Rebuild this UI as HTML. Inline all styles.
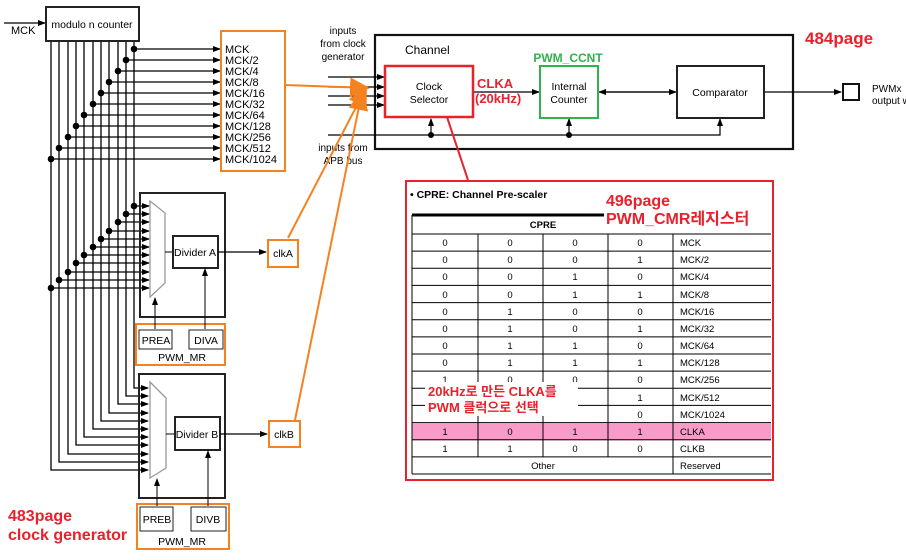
<!DOCTYPE html>
<html><head><meta charset="utf-8"><style>
body{margin:0;background:#fff;width:906px;height:560px;overflow:hidden}
svg{display:block;font-family:"Liberation Sans",Arial,sans-serif}
.k{font-family:"Liberation Sans","Noto Sans CJK KR",sans-serif;font-weight:bold}
</style></head><body>
<svg width="906" height="560" viewBox="0 0 906 560" xmlns="http://www.w3.org/2000/svg">
<defs>
<marker id="a" markerWidth="8" markerHeight="6" refX="7" refY="3" orient="auto" markerUnits="userSpaceOnUse"><path d="M0,0 L8,3 L0,6 z" fill="#000"/></marker>
<marker id="o" markerWidth="22" markerHeight="20" refX="18" refY="10" orient="auto" markerUnits="userSpaceOnUse"><path d="M0,0 L20,10 L0,20 z" fill="#f58220"/></marker>
</defs>
<g stroke="#000" stroke-width="1.3" fill="none">
<line x1="4" y1="23" x2="45" y2="23" marker-end="url(#a)"/>
<polyline points="134,41 134,388 148,388" marker-end="url(#a)"/>
<polyline points="126,41 126,396 148,396" marker-end="url(#a)"/>
<polyline points="118,41 118,404 148,404" marker-end="url(#a)"/>
<polyline points="109,41 109,413 148,413" marker-end="url(#a)"/>
<polyline points="101,41 101,421 148,421" marker-end="url(#a)"/>
<polyline points="93,41 93,429 148,429" marker-end="url(#a)"/>
<polyline points="84,41 84,437 148,437" marker-end="url(#a)"/>
<polyline points="76,41 76,445 148,445" marker-end="url(#a)"/>
<polyline points="68,41 68,454 148,454" marker-end="url(#a)"/>
<polyline points="59,41 59,462 148,462" marker-end="url(#a)"/>
<polyline points="51,41 51,470 148,470" marker-end="url(#a)"/>
<line x1="134" y1="49" x2="220" y2="49" marker-end="url(#a)"/>
<line x1="126" y1="60" x2="220" y2="60" marker-end="url(#a)"/>
<line x1="118" y1="71" x2="220" y2="71" marker-end="url(#a)"/>
<line x1="109" y1="82" x2="220" y2="82" marker-end="url(#a)"/>
<line x1="101" y1="93" x2="220" y2="93" marker-end="url(#a)"/>
<line x1="93" y1="104" x2="220" y2="104" marker-end="url(#a)"/>
<line x1="84" y1="115" x2="220" y2="115" marker-end="url(#a)"/>
<line x1="76" y1="126" x2="220" y2="126" marker-end="url(#a)"/>
<line x1="68" y1="137" x2="220" y2="137" marker-end="url(#a)"/>
<line x1="59" y1="148" x2="220" y2="148" marker-end="url(#a)"/>
<line x1="51" y1="159" x2="220" y2="159" marker-end="url(#a)"/>
<line x1="134" y1="206" x2="149" y2="206" marker-end="url(#a)"/>
<line x1="126" y1="214" x2="149" y2="214" marker-end="url(#a)"/>
<line x1="118" y1="222" x2="149" y2="222" marker-end="url(#a)"/>
<line x1="109" y1="231" x2="149" y2="231" marker-end="url(#a)"/>
<line x1="101" y1="239" x2="149" y2="239" marker-end="url(#a)"/>
<line x1="93" y1="247" x2="149" y2="247" marker-end="url(#a)"/>
<line x1="84" y1="255" x2="149" y2="255" marker-end="url(#a)"/>
<line x1="76" y1="263" x2="149" y2="263" marker-end="url(#a)"/>
<line x1="68" y1="272" x2="149" y2="272" marker-end="url(#a)"/>
<line x1="59" y1="280" x2="149" y2="280" marker-end="url(#a)"/>
<line x1="51" y1="288" x2="149" y2="288" marker-end="url(#a)"/>
</g>
<g fill="#000">
<circle cx="134" cy="49" r="3.3"/><circle cx="126" cy="60" r="3.3"/><circle cx="118" cy="71" r="3.3"/><circle cx="109" cy="82" r="3.3"/><circle cx="101" cy="93" r="3.3"/><circle cx="93" cy="104" r="3.3"/><circle cx="84" cy="115" r="3.3"/><circle cx="76" cy="126" r="3.3"/><circle cx="68" cy="137" r="3.3"/><circle cx="59" cy="148" r="3.3"/><circle cx="51" cy="159" r="3.3"/>
<circle cx="134" cy="206" r="3.3"/><circle cx="126" cy="214" r="3.3"/><circle cx="118" cy="222" r="3.3"/><circle cx="109" cy="231" r="3.3"/><circle cx="101" cy="239" r="3.3"/><circle cx="93" cy="247" r="3.3"/><circle cx="84" cy="255" r="3.3"/><circle cx="76" cy="263" r="3.3"/><circle cx="68" cy="272" r="3.3"/><circle cx="59" cy="280" r="3.3"/><circle cx="51" cy="288" r="3.3"/>
</g>
<rect x="46" y="7" width="93" height="34" fill="#fff" stroke="#222" stroke-width="2"/>
<text x="92" y="28" font-size="10.5" text-anchor="middle">modulo n counter</text>
<text x="11" y="34" font-size="11">MCK</text>
<rect x="221" y="31" width="64" height="140" fill="#fff" stroke="#f58220" stroke-width="2"/>
<g font-size="11"><text x="225" y="53">MCK</text><text x="225" y="64">MCK/2</text><text x="225" y="75">MCK/4</text><text x="225" y="86">MCK/8</text><text x="225" y="97">MCK/16</text><text x="225" y="108">MCK/32</text><text x="225" y="119">MCK/64</text><text x="225" y="130">MCK/128</text><text x="225" y="141">MCK/256</text><text x="225" y="152">MCK/512</text><text x="225" y="163">MCK/1024</text></g>
<rect x="140" y="193" width="85" height="124" fill="none" stroke="#222" stroke-width="2"/>
<polygon points="150,201 165,213 165,283 150,297" fill="#fff" stroke="#999" stroke-width="1.3"/>
<line x1="165" y1="252" x2="173" y2="252" stroke="#000"/>
<rect x="173" y="236" width="45" height="32" fill="#fff" stroke="#222" stroke-width="2"/>
<text x="195" y="256" font-size="10.5" text-anchor="middle">Divider A</text>
<line x1="218" y1="252" x2="266" y2="252" stroke="#000" stroke-width="1.2" marker-end="url(#a)"/>
<rect x="268" y="240" width="30" height="27" fill="#fff" stroke="#f58220" stroke-width="2"/>
<text x="283" y="257" font-size="10.5" text-anchor="middle">clkA</text>
<rect x="136" y="324" width="89" height="41" fill="none" stroke="#f58220" stroke-width="2"/>
<rect x="139" y="330" width="33" height="19" fill="#fff" stroke="#222"/><text x="156" y="344" font-size="10.5" text-anchor="middle">PREA</text>
<rect x="189" y="330" width="34" height="19" fill="#fff" stroke="#222"/><text x="206" y="344" font-size="10.5" text-anchor="middle">DIVA</text>
<text x="182" y="361" font-size="10.5" text-anchor="middle">PWM_MR</text>
<line x1="155" y1="329" x2="155" y2="298" stroke="#000" marker-end="url(#a)"/>
<line x1="205" y1="329" x2="205" y2="269" stroke="#000" marker-end="url(#a)"/>
<rect x="139" y="374" width="86" height="124" fill="none" stroke="#222" stroke-width="2"/>
<polygon points="150,382 166,398 166,468 150,478" fill="#fff" stroke="#999" stroke-width="1.3"/>
<line x1="166" y1="434" x2="175" y2="434" stroke="#000"/>
<rect x="175" y="417" width="45" height="33" fill="#fff" stroke="#222" stroke-width="2"/>
<text x="197" y="438" font-size="10.5" text-anchor="middle">Divider B</text>
<line x1="220" y1="434" x2="267" y2="434" stroke="#000" stroke-width="1.2" marker-end="url(#a)"/>
<rect x="269" y="421" width="31" height="26" fill="#fff" stroke="#f58220" stroke-width="2"/>
<text x="284" y="438" font-size="10.5" text-anchor="middle">clkB</text>
<rect x="137" y="504" width="92" height="45" fill="none" stroke="#f58220" stroke-width="2"/>
<rect x="140" y="507" width="33" height="24" fill="#fff" stroke="#222"/><text x="157" y="523" font-size="10.5" text-anchor="middle">PREB</text>
<rect x="191" y="507" width="35" height="24" fill="#fff" stroke="#222"/><text x="208" y="523" font-size="10.5" text-anchor="middle">DIVB</text>
<text x="182" y="545" font-size="10.5" text-anchor="middle">PWM_MR</text>
<line x1="157" y1="506" x2="157" y2="479" stroke="#000" marker-end="url(#a)"/>
<line x1="208" y1="506" x2="208" y2="451" stroke="#000" marker-end="url(#a)"/>
<text x="8" y="521" class="k" font-size="16" fill="#e8212b">483page</text>
<text x="8" y="540" class="k" font-size="16" fill="#e8212b">clock generator</text>
<rect x="375" y="35" width="418" height="114" fill="none" stroke="#111" stroke-width="2.2"/>
<text x="405" y="54" font-size="12">Channel</text>
<text x="343" y="34" font-size="10" text-anchor="middle">inputs</text>
<text x="343" y="47" font-size="10" text-anchor="middle">from clock</text>
<text x="343" y="60" font-size="10" text-anchor="middle">generator</text>
<text x="343" y="151" font-size="10" text-anchor="middle">inputs from</text>
<text x="343" y="164" font-size="10" text-anchor="middle">APB bus</text>
<g stroke="#000" stroke-width="1.2">
<line x1="328" y1="77" x2="384" y2="77" marker-end="url(#a)"/>
<line x1="328" y1="87" x2="384" y2="87" marker-end="url(#a)"/>
<line x1="328" y1="96" x2="384" y2="96" marker-end="url(#a)"/>
<line x1="328" y1="105" x2="384" y2="105" marker-end="url(#a)"/>
<polyline points="328,135 720,135 720,119" fill="none" marker-end="url(#a)"/>
<line x1="431" y1="135" x2="431" y2="119" marker-end="url(#a)"/>
<line x1="569" y1="135" x2="569" y2="119" marker-end="url(#a)"/>
<line x1="473" y1="92" x2="539" y2="92" marker-end="url(#a)"/>
<line x1="606" y1="92" x2="676" y2="92" marker-end="url(#a)"/>
<line x1="670" y1="92" x2="599" y2="92" marker-end="url(#a)"/>
<line x1="764" y1="92" x2="841" y2="92" marker-end="url(#a)"/>
</g>
<circle cx="431" cy="135" r="3" fill="#000"/><circle cx="569" cy="135" r="3" fill="#000"/>
<rect x="385" y="66" width="88" height="51" fill="#fff" stroke="#e8212b" stroke-width="2.5"/>
<text x="429" y="90" font-size="10.5" text-anchor="middle">Clock</text>
<text x="429" y="103" font-size="10.5" text-anchor="middle">Selector</text>
<rect x="540" y="66" width="58" height="52" fill="#fff" stroke="#2fb34a" stroke-width="2"/>
<text x="569" y="90" font-size="10.5" text-anchor="middle">Internal</text>
<text x="569" y="103" font-size="10.5" text-anchor="middle">Counter</text>
<rect x="677" y="66" width="87" height="52" fill="#fff" stroke="#222" stroke-width="2"/>
<text x="720" y="96" font-size="10.5" text-anchor="middle">Comparator</text>
<rect x="843" y="84" width="16" height="16" fill="#fff" stroke="#111" stroke-width="2"/>
<text x="872" y="92" font-size="10">PWMx</text>
<text x="872" y="104" font-size="10">output w</text>
<text x="477" y="88" class="k" font-size="13" fill="#e8212b">CLKA</text>
<text x="475" y="103" class="k" font-size="13" fill="#e8212b" font-weight="normal">(20kHz)</text>
<text x="568" y="62" class="k" font-size="12" fill="#2fb34a" text-anchor="middle">PWM_CCNT</text>
<text x="805" y="44" class="k" font-size="17" fill="#e8212b">484page</text>
<g stroke="#f58220" stroke-width="2" fill="none">
<line x1="285" y1="85" x2="368" y2="88" marker-end="url(#o)"/>
<line x1="288" y1="238" x2="366" y2="88" marker-end="url(#o)"/>
<line x1="295" y1="420" x2="362" y2="92" marker-end="url(#o)"/>
</g>
<line x1="447" y1="117" x2="468" y2="180" stroke="#e8212b" stroke-width="2"/>
<rect x="406" y="181" width="367" height="299" fill="#fff" stroke="#e8212b" stroke-width="2"/>
<text x="410" y="198" font-size="10.5" font-weight="bold">•  CPRE: Channel Pre-scaler</text>
<rect x="412" y="423.4" width="359" height="17.1" fill="#f99bc9"/>
<line x1="412" y1="215" x2="610" y2="215" stroke="#000" stroke-width="3"/>
<g stroke="#000" stroke-width="1">
<line x1="412" y1="215" x2="412" y2="474"/>
<line x1="673" y1="234" x2="673" y2="474"/>
<line x1="478" y1="234" x2="478" y2="457"/><line x1="543" y1="234" x2="543" y2="457"/><line x1="608" y1="234" x2="608" y2="457"/>
<line x1="412" y1="234" x2="771" y2="234"/><line x1="412" y1="251.1" x2="771" y2="251.1"/><line x1="412" y1="268.3" x2="771" y2="268.3"/><line x1="412" y1="285.4" x2="771" y2="285.4"/><line x1="412" y1="302.6" x2="771" y2="302.6"/><line x1="412" y1="319.7" x2="771" y2="319.7"/><line x1="412" y1="336.9" x2="771" y2="336.9"/><line x1="412" y1="354" x2="771" y2="354"/><line x1="412" y1="371.1" x2="771" y2="371.1"/><line x1="412" y1="388.3" x2="771" y2="388.3"/><line x1="412" y1="405.4" x2="771" y2="405.4"/><line x1="412" y1="422.6" x2="771" y2="422.6"/><line x1="412" y1="439.7" x2="771" y2="439.7"/><line x1="412" y1="456.9" x2="771" y2="456.9"/><line x1="412" y1="474" x2="771" y2="474"/>
</g>
<text x="543" y="228" font-size="9.5" font-weight="bold" text-anchor="middle">CPRE</text>
<g font-size="9.5" text-anchor="middle">
<text x="445" y="246">0</text><text x="510" y="246">0</text><text x="575" y="246">0</text><text x="640" y="246">0</text>
<text x="445" y="263">0</text><text x="510" y="263">0</text><text x="575" y="263">0</text><text x="640" y="263">1</text>
<text x="445" y="280">0</text><text x="510" y="280">0</text><text x="575" y="280">1</text><text x="640" y="280">0</text>
<text x="445" y="298">0</text><text x="510" y="298">0</text><text x="575" y="298">1</text><text x="640" y="298">1</text>
<text x="445" y="315">0</text><text x="510" y="315">1</text><text x="575" y="315">0</text><text x="640" y="315">0</text>
<text x="445" y="332">0</text><text x="510" y="332">1</text><text x="575" y="332">0</text><text x="640" y="332">1</text>
<text x="445" y="349">0</text><text x="510" y="349">1</text><text x="575" y="349">1</text><text x="640" y="349">0</text>
<text x="445" y="366">0</text><text x="510" y="366">1</text><text x="575" y="366">1</text><text x="640" y="366">1</text>
<text x="445" y="383">1</text><text x="510" y="383">0</text><text x="575" y="383">0</text><text x="640" y="383">0</text>
<text x="640" y="401">1</text><text x="640" y="418">0</text>
<text x="445" y="435">1</text><text x="510" y="435">0</text><text x="575" y="435">1</text><text x="640" y="435">1</text>
<text x="445" y="452">1</text><text x="510" y="452">1</text><text x="575" y="452">0</text><text x="640" y="452">0</text>
<text x="543" y="469">Other</text>
</g>
<g font-size="9.5">
<text x="680" y="246">MCK</text><text x="680" y="263">MCK/2</text><text x="680" y="280">MCK/4</text><text x="680" y="298">MCK/8</text><text x="680" y="315">MCK/16</text><text x="680" y="332">MCK/32</text><text x="680" y="349">MCK/64</text><text x="680" y="366">MCK/128</text><text x="680" y="383">MCK/256</text><text x="680" y="401">MCK/512</text><text x="680" y="418">MCK/1024</text><text x="680" y="435">CLKA</text><text x="680" y="452">CLKB</text><text x="680" y="469">Reserved</text>
</g>
<rect x="604" y="189" width="160" height="42" fill="#fff"/>
<text x="606" y="206" class="k" font-size="16" fill="#e8212b">496page</text>
<text x="606" y="224" class="k" font-size="16" fill="#e8212b">PWM_CMR레지스터</text>
<rect x="425" y="382" width="153" height="34" fill="#fff"/>
<text x="428" y="396" class="k" font-size="13" fill="#e8212b">20kHz로 만든 CLKA를</text>
<text x="428" y="412" class="k" font-size="13" fill="#e8212b">PWM 클럭으로 선택</text>
</svg>
</body></html>
